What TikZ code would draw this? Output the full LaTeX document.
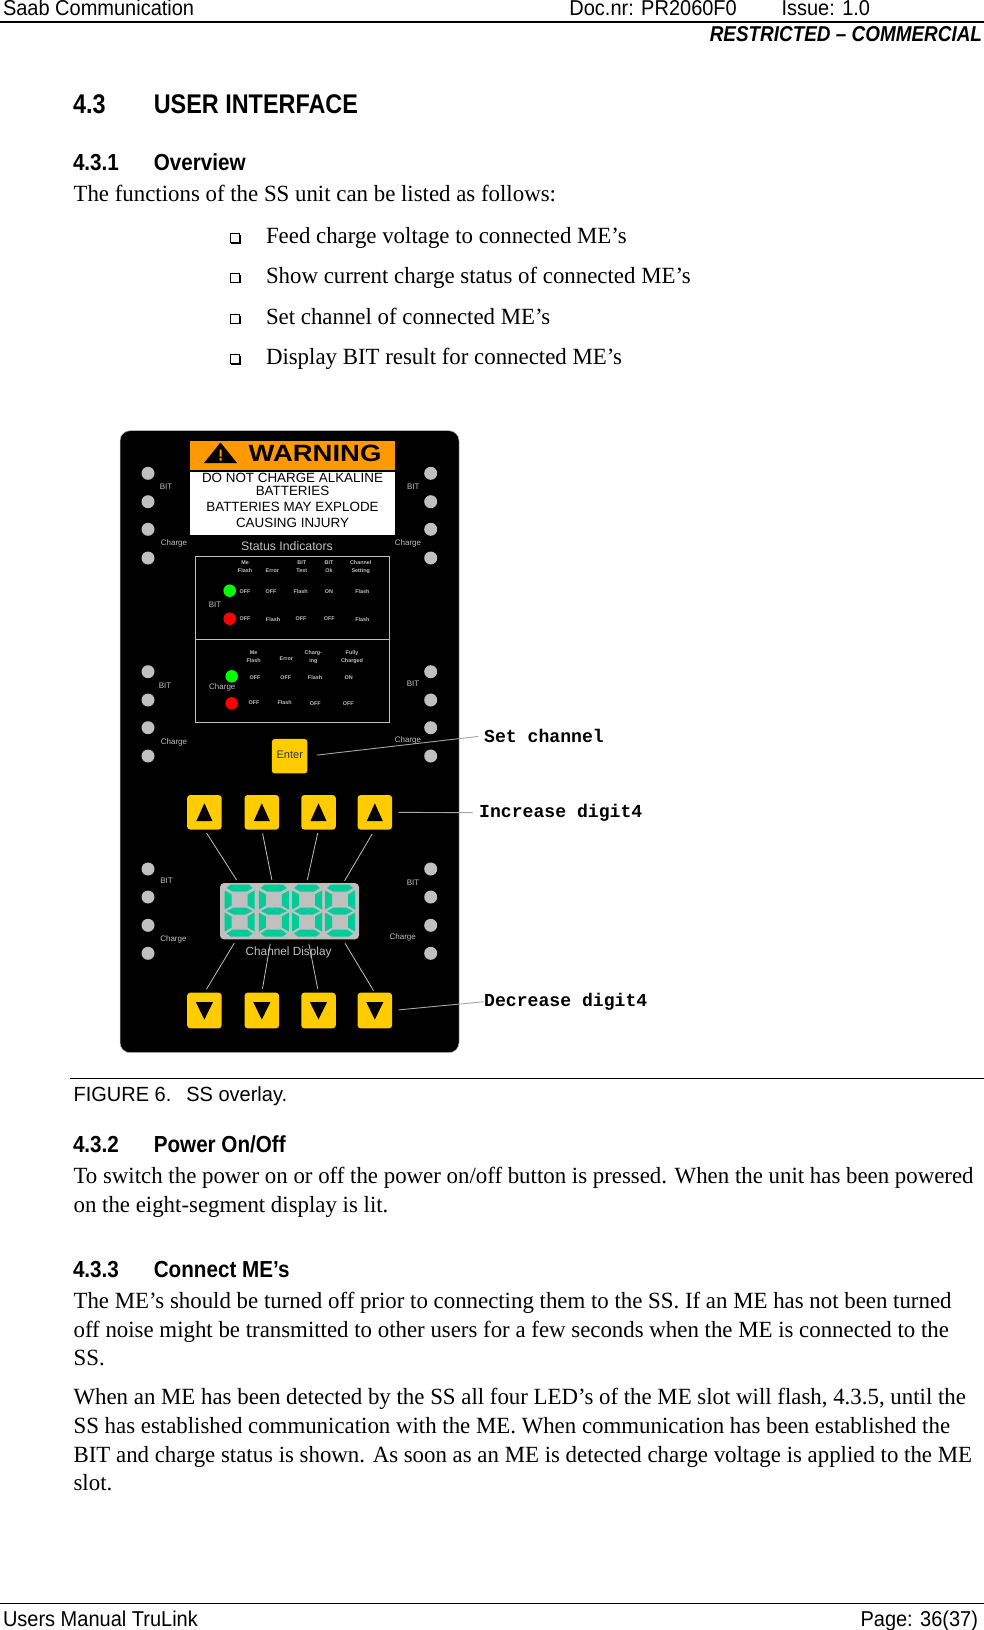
\documentclass[tikz,border=0pt]{standalone}
\usepackage{fontspec}
\setmainfont[FakeStretch=0.985]{Liberation Serif}
\setsansfont[FakeStretch=0.93]{Liberation Sans}
\newfontfamily\plainsans{Liberation Sans}
\newfontfamily\widesans[FakeStretch=1.17]{Liberation Sans}
\newfontfamily\labelmono[FakeStretch=0.99]{Liberation Mono}
\newfontfamily\hOne[FakeStretch=0.867]{Liberation Sans}
\newfontfamily\hTwo[FakeStretch=0.89]{Liberation Sans}
\newfontfamily\hThree[FakeStretch=0.88]{Liberation Sans}
\newfontfamily\capfont[FakeStretch=0.975]{Liberation Sans}
\definecolor{teal7}{HTML}{00CC99}
\definecolor{btn}{HTML}{FFCC00}
\definecolor{orng}{HTML}{FF9900}
\definecolor{panelgray}{HTML}{C0C0C0}
\tikzset{
  every node/.style={inner sep=0pt,outer sep=0pt},
  txt/.style={anchor=base west,font=\fontsize{23.2}{28}\selectfont},
  hdr/.style={anchor=base west,font=\sffamily\fontsize{21.5}{26}\selectfont},
  h1/.style={anchor=base west,font=\hOne\bfseries\fontsize{27}{32}\selectfont},
  h2/.style={anchor=base west,font=\hTwo\bfseries\fontsize{23.2}{28}\selectfont},
  dot/.style={circle,fill=panelgray,minimum size=13pt},
  led/.style={circle,minimum size=12.5pt},
  tiny/.style={font=\plainsans\bfseries\fontsize{5.4}{8}\selectfont,text=panelgray,align=center},
  slab/.style={font=\plainsans\fontsize{8}{9}\selectfont,text=panelgray},
  warn/.style={font=\plainsans\fontsize{13.4}{15}\selectfont,text=black},
  key/.style={fill=btn,rounded corners=3pt,minimum width=34.5pt,minimum height=34.5pt},
  lead/.style={draw=gray!70,line width=0.9pt},
  wlead/.style={draw=panelgray,line width=0.8pt},
  callout/.style={anchor=west,font=\labelmono\bfseries\fontsize{18.3}{20}\selectfont},
  chk/.style={draw=black,line width=0.9pt,minimum width=8.5pt,minimum height=9pt},
  seg/.style={fill=teal7},
  digit/.pic={
    \fill[seg] (6,0)--(24,0)--(28,3.5)--(22,7)--(8,7)--(2,3.5)--cycle;
    \fill[seg] (0,6)--(7,10)--(7,21)--(0,25)--cycle;
    \fill[seg] (30,6)--(23,10)--(23,21)--(30,25)--cycle;
    \fill[seg] (2,26.5)--(9,23)--(21,23)--(28,26.5)--(21,30)--(9,30)--cycle;
    \fill[seg] (0,28)--(7,32)--(7,43)--(0,47)--cycle;
    \fill[seg] (30,28)--(23,32)--(23,43)--(30,47)--cycle;
    \fill[seg] (8,45)--(22,45)--(28,49)--(24,52)--(6,52)--(2,49)--cycle;
  }
}
\begin{document}
\begin{tikzpicture}[x=1pt,y=-1pt]
\useasboundingbox (0,0) rectangle (984,1630);
\fill[white] (0,0) rectangle (984,1630);
% header
\node[hdr] (saab) at (3,15) {Saab Communication};
\node[hdr] (doc) at (569.4,15) {Doc.nr: PR2060F0};
\node[hdr] (issue) at (781.5,15) {Issue: 1.0};
\draw[line width=1.6pt] (0,21.7) -- (984,21.7);
\node[anchor=base east,font=\hThree\bfseries\itshape\fontsize{21.5}{26}\selectfont] (restr) at (982,41.5) {RESTRICTED – COMMERCIAL};
% section
\node[h1] (s43) at (73,113) {4.3};
\node[h1] (s43t) at (153.8,113) {USER INTERFACE};
\node[h2] (s431) at (73,170) {4.3.1};
\node[h2] (s431t) at (153.8,170) {Overview};
\node[txt] (p1) at (73.6,201.7) {The functions of the SS unit can be listed as follows:};
\foreach \n/\yy/\tx in {1/243.3/{Feed charge voltage to connected ME’s},2/283/{Show current charge status of connected ME’s},3/324/{Set channel of connected ME’s},4/364.3/{Display BIT result for connected ME’s}}{
  \node[txt] (li\n) at (266,\yy) {\tx};
  \fill (230.5,\yy-8.5) rectangle (240.8,\yy+0.3);
  \node[chk,fill=white] (cb\n) at (234.8,\yy-5.5) {};
}
% panel
\draw[fill=black,draw=panelgray,line width=0.5pt,rounded corners=10pt] (120,430.7) rectangle (459,1052.7);
\node[fill=orng,minimum width=204.7pt,minimum height=29.3pt] (warnbar) at (292.6,455.3) {};
\node[fill=white,minimum width=204.7pt,minimum height=63.3pt] (warnbox) at (292.6,503.7) {};
\draw[line width=1.2pt] (190.3,471) -- (395,471);
\fill (204,463) -- (220.5,442.5) -- (237,463) -- cycle;
\fill[orng] (219.5,449.5) rectangle (221.5,456.5) (219.5,458) rectangle (221.5,460.5);
\node[font=\widesans\bfseries\fontsize{23.5}{26}\selectfont,anchor=base] (warnt) at (315,461.5) {WARNING};
\node[warn] (w1) at (292.5,477.7) {DO NOT CHARGE ALKALINE};
\node[warn] (w2) at (292.5,491) {BATTERIES};
\node[warn] (w3) at (292.5,507) {BATTERIES MAY EXPLODE};
\node[warn] (w4) at (292.5,522.7) {CAUSING INJURY};
\node[font=\plainsans\fontsize{12.3}{13}\selectfont,text=panelgray] (stat) at (287,546) {Status Indicators};
% side lamps
\foreach \yy [count=\i] in {473.3,501.7,529.3,558,671.7,700,727.7,756,869,897,925.3,953.3}{
  \node[dot] (ldot\i) at (148,\yy) {};
  \node[dot] (rdot\i) at (430.7,\yy) {};
}
\foreach \xx/\yy/\tx [count=\i] in {166/487/BIT,413.3/487/BIT,174/543.7/Charge,408/543.7/Charge,165/686/BIT,413/684/BIT,174/742/Charge,408/740.7/Charge,166.5/881/BIT,413/882.7/BIT,173.4/939/Charge,402.7/937.7/Charge}{
  \node[slab] (sl\i) at (\xx,\yy) {\tx};
}
% status box
\draw[draw=panelgray,line width=1.1pt] (195.3,556.7) rectangle (389.3,722.7);
\draw[draw=panelgray,line width=1.1pt] (195.3,639.7) -- (389.3,639.7);
\node[led,fill=green] (g1) at (229.7,590.7) {};
\node[led,fill=red] (r1) at (229.7,618.7) {};
\node[led,fill=green] (g2) at (231.7,676.3) {};
\node[led,fill=red] (r2) at (231.7,703.3) {};
\node[slab] (bitm) at (215,604.7) {BIT};
\node[slab] (chgm) at (222.3,687.7) {Charge};
\foreach \xx/\yy/\tx [count=\i] in {
 245/567/{Me\\Flash},272.3/571/{Error},301.7/567/{BIT\\Test},329/567/{BIT\\Ok},360.7/567/{Channel\\Setting},
 245/591.3/OFF,271/591.3/OFF,300.7/591.3/Flash,329/591.3/ON,362.3/591.3/Flash,
 245/618.3/OFF,273/619.3/Flash,301/618.3/OFF,329.3/618.3/OFF,362.3/619.3/Flash,
 253.7/657/{Me\\Flash},286.3/658.7/{Error},313.3/657/{Charg-\\ing},352/657/{Fully\\Charged},
 255/677.3/OFF,285.7/677.3/OFF,315/677.3/Flash,348.7/677.3/ON,
 254/702.7/OFF,284.7/702.7/Flash,315.3/703.7/OFF,348.3/703.7/OFF}{
  \node[tiny] (st\i) at (\xx,\yy) {\tx};
}
% buttons
\node[key,minimum width=35.6pt] (enter) at (289.6,756.2) {};
\node[font=\plainsans\fontsize{11}{12}\selectfont,text=black!80] (entert) at (289.8,755) {Enter};
\foreach \xx [count=\i] in {204.4,261.8,318.5,374.8}{
  \node[key] (up\i) at (\xx,812.3) {};
  \fill (\xx,803.3) -- (\xx+8,821) -- (\xx-8,821) -- cycle;
  \node[key,minimum height=35.6pt] (dn\i) at (\xx,1010.5) {};
  \fill (\xx,1019.5) -- (\xx+8.6,1002) -- (\xx-8.6,1002) -- cycle;
}
% display
\node[fill=panelgray,rounded corners=4pt,minimum width=139pt,minimum height=56.3pt] (disp) at (289.5,911.2) {};
\foreach \xx in {224.7,258.8,292,325}{ \pic at (\xx,884.5) {digit}; }
\node[font=\plainsans\fontsize{11.8}{13}\selectfont,text=panelgray] (chd) at (288.6,952.3) {Channel Display};
% connectors digits
\foreach \i/\xa/\xb in {1/238.5/236.6,2/272.5/271,3/306.6/308,4/343.3/342.6}{
  \coordinate (dt\i) at (\xa,883);
  \coordinate (db\i) at (\xb,939.3);
}
\draw[wlead,shorten <=4pt,shorten >=3.5pt] (up1.south) -- (dt1);
\draw[wlead,shorten <=4pt,shorten >=3pt] (up2.south) -- (dt2);
\draw[wlead,shorten <=3.5pt,shorten >=3pt] (up3.south) -- (dt3);
\draw[wlead,shorten <=5pt,shorten >=2.5pt] (up4.south) -- (dt4);
\draw[wlead,shorten <=4pt,shorten >=4.5pt] (dn1.north) -- (db1);
\draw[wlead,shorten <=4pt,shorten >=4.5pt] (dn2.north) -- (db2);
\draw[wlead,shorten <=4pt,shorten >=4.5pt] (dn3.north) -- (db3);
\draw[wlead,shorten <=2.5pt,shorten >=4.5pt] (dn4.north) -- (db4);
% callouts
\node[callout] (csc) at (484.2,735.7) {Set channel};
\node[callout] (cinc) at (479.2,812.7) {Increase digit4};
\node[callout] (cdec) at (484.2,1001.7) {Decrease digit4};
\draw[lead,shorten <=9.5pt,shorten >=6pt] (enter.east) -- (csc.west);
\draw[lead,shorten <=6.5pt,shorten >=6.5pt] (up4.east) -- (cinc.west);
\draw[lead,shorten <=6.5pt] (dn4.east) -- (cdec.west);
% lower text
\draw[line width=0.9pt] (70.3,1078.2) -- (984,1078.2);
\node[anchor=base west,font=\capfont\fontsize{20.5}{24}\selectfont] (fig) at (73.6,1101) {FIGURE 6.};
\node[anchor=base west,font=\capfont\fontsize{20.5}{24}\selectfont] (figt) at (186.4,1101) {SS overlay.};
\node[h2] (s432) at (73,1152) {4.3.2};
\node[h2] (s432t) at (153.8,1152) {Power On/Off};
\node[txt] (a1) at (73.6,1183.6) {To switch the power on or off the power on/off button is pressed. When the unit has been powered};
\node[txt] (a2) at (73.6,1212) {on the eight-segment display is lit.};
\node[h2] (s433) at (73,1277.4) {4.3.3};
\node[h2] (s433t) at (153.8,1277.4) {Connect ME’s};
\node[txt] (b1) at (73.6,1308) {The ME’s should be turned off prior to connecting them to the SS. If an ME has not been turned};
\node[txt] (b2) at (73.6,1337) {off noise might be transmitted to other users for a few seconds when the ME is connected to the};
\node[txt] (b3) at (73.6,1365.5) {SS.};
\node[txt] (c1) at (73.6,1404.7) {When an ME has been detected by the SS all four LED’s of the ME slot will flash, 4.3.5, until the};
\node[txt] (c2) at (73.6,1433) {SS has established communication with the ME. When communication has been established the};
\node[txt] (c3) at (73.6,1462.2) {BIT and charge status is shown. As soon as an ME is detected charge voltage is applied to the ME};
\node[txt] (c4) at (73.6,1490) {slot.};
% footer
\draw[line width=1pt] (0,1603.6) -- (984,1603.6);
\node[hdr] (foot) at (3,1626) {Users Manual TruLink};
\node[anchor=base east,font=\sffamily\fontsize{21.5}{26}\selectfont] (page) at (978,1626) {Page: 36(37)};
\end{tikzpicture}
\end{document}
